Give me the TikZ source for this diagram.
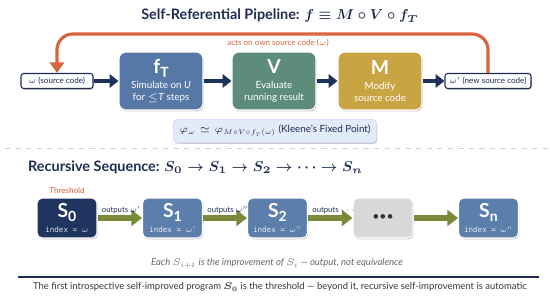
\RequirePackage{fix-cm}
\documentclass[tikz,border=0pt]{standalone}
\usepackage{fontspec}
\setmainfont{Lato}
\setmonofont{DejaVu Sans Mono}
\usetikzlibrary{arrows.meta, positioning}
\definecolor{mnavy}{RGB}{30,45,80}
\definecolor{marrow}{RGB}{28,48,92}
\definecolor{mblue}{RGB}{86,120,166}
\definecolor{mgreen}{RGB}{94,140,122}
\definecolor{mgold}{RGB}{201,164,66}
\definecolor{morange}{RGB}{216,100,60}
\definecolor{mlight}{RGB}{226,235,248}
\definecolor{mdark}{RGB}{31,52,94}
\definecolor{mseq}{RGB}{92,126,172}
\definecolor{mgrey}{RGB}{216,216,216}
\definecolor{molive}{RGB}{122,138,58}
\definecolor{mtext}{RGB}{55,55,55}

\newcommand{\lowsub}[1]{\raisebox{-0.35ex}{\fontsize{8}{8}\selectfont #1}}

\begin{document}
\begin{tikzpicture}[x=0.02cm, y=-0.02cm,
  head/.style={font=\fontsize{8.2}{10}\selectfont\bfseries\boldmath, text=mnavy},
  shadowed/.style={preaction={fill=black, opacity=0.2, transform canvas={xshift=0.5pt, yshift=-0.8pt}}},
  proc/.style={rectangle, rounded corners=4pt, fill=#1, draw=white, line width=0.6pt,
               text=white, minimum width=1.68cm, minimum height=1.16cm, align=center,
               inner sep=1pt, font=\fontsize{5.6}{6.6}\selectfont, shadowed},
  srcbox/.style={rectangle, rounded corners=1.5pt, draw=mnavy, fill=white, line width=0.6pt,
                 minimum height=0.3cm, inner sep=1pt, text=mnavy,
                 font=\fontsize{4.6}{5}\selectfont, shadowed},
  seq/.style={rectangle, rounded corners=3pt, fill=#1, draw=white, line width=0.6pt,
              text=white!85!#1, minimum width=1.2cm, minimum height=0.8cm, align=center,
              inner sep=1pt, font=\ttfamily\fontsize{4.3}{5}\selectfont, shadowed},
  arr/.style={-{Triangle[length=5pt,width=7.5pt]}, marrow, line width=2.3pt},
  outarr/.style={-{Triangle[length=6pt,width=9pt]}, molive, line width=3pt},
  fb/.style={-{Triangle[length=6pt,width=8pt]}, morange, line width=1.8pt, rounded corners=9pt},
  lbl/.style={font=\fontsize{4.4}{5}\selectfont, text=mnavy, inner sep=1pt},
  note/.style={font=\fontsize{5.4}{6}\selectfont, text=mtext}
]
\useasboundingbox[fill=white] (0,0) rectangle (550,300);

% pipeline
\node[head] (title) at (280,16) {Self-Referential Pipeline: $f \equiv M \circ V \circ f_T$};

\node[srcbox, minimum width=1.44cm] (src) at (57,81) {$\omega$ (source code)};
\node[proc=mblue] (ft) at (161,81)
  {{\fontsize{11}{11}\selectfont\bfseries f\lowsub{T}}\\[2pt]
   Simulate on \textit{U}\\ for $\leq$\textit{T} steps};
\node[proc=mgreen] (v) at (274,81)
  {{\fontsize{11}{11}\selectfont\bfseries V}\\[2pt]
   Evaluate\\ running result};
\node[proc=mgold] (m) at (380,81)
  {{\fontsize{11}{11}\selectfont\bfseries M}\\[2pt]
   Modify\\ source code};
\node[srcbox, minimum width=1.72cm] (newsrc) at (488,81) {$\omega'$ (new source code)};

\draw[arr] (src) -- (ft);
\draw[arr] (ft) -- (v);
\draw[arr] (v) -- (m);
\draw[arr] (m) -- (newsrc);

\coordinate (looptop) at (275,34);
\draw[fb] (newsrc.north) |- (looptop) -| (src.north);
\node[font=\fontsize{4.6}{5}\selectfont, text=morange] (acts) at (278,43) {acts on own source code ($\omega$)};

\node[rectangle, rounded corners=2pt, fill=mlight, draw=blue!15, text=mnavy,
      minimum width=3.5cm, minimum height=0.36cm, font=\fontsize{5.6}{6}\selectfont, shadowed] (fix) at (275,131)
  {$\varphi_\omega \simeq \varphi_{M \circ V \circ f_T(\omega)}$ (Kleene's Fixed Point)};

\draw[gray!35, dashed, line width=0.5pt] (5,148) -- (548,148);

% sequence
\node[head, anchor=west] (seqtitle) at (22,167)
  {Recursive Sequence: $S_0 \to S_1 \to S_2 \to \cdots \to S_n$};
\node[font=\fontsize{4.6}{5}\selectfont, text=morange] (thr) at (67,191) {Threshold};

\node[seq=mdark] (s0) at (67,218)
  {{\rmfamily\fontsize{11}{11}\selectfont\bfseries\color{white} S\lowsub{0}}\\[2pt] index = $\omega$};
\node[seq=mseq] (s1) at (172.5,218)
  {{\rmfamily\fontsize{11}{11}\selectfont\bfseries\color{white} S\lowsub{1}}\\[2pt] index = $\omega'$};
\node[seq=mseq] (s2) at (277.5,218)
  {{\rmfamily\fontsize{11}{11}\selectfont\bfseries\color{white} S\lowsub{2}}\\[2pt] index = $\omega''$};
\node[seq=mgrey, text=black!80] (dots) at (383,218)
  {\rmfamily\fontsize{7}{7}\selectfont\textbullet\textbullet\textbullet};
\node[seq=mseq] (sn) at (488.5,218)
  {{\rmfamily\fontsize{11}{11}\selectfont\bfseries\color{white} S\lowsub{n}}\\[2pt] index = $\omega^n$};

\draw[outarr] (s0) -- (s1) node[lbl, pos=0, above right] {outputs $\omega'$};
\draw[outarr] (s1) -- (s2) node[lbl, pos=0, above right] {outputs $\omega''$};
\draw[outarr] (s2) -- (dots) node[lbl, pos=0, above right] {outputs $\cdots$};
\draw[outarr] (dots) -- (sn);

\node[font=\fontsize{5.4}{6}\selectfont\itshape, text=gray!80!black] (each) at (277,264)
  {Each $S_{i+1}$ is the improvement of $S_i$ — output, not equivalence};
\draw[mnavy, line width=0.6pt] (18,277) -- (539,277);
\node[note] (bottom) at (280,287)
  {The first introspective self-improved program {\boldmath$S_0$} is the threshold — beyond it, recursive self-improvement is automatic};
\end{tikzpicture}
\end{document}
